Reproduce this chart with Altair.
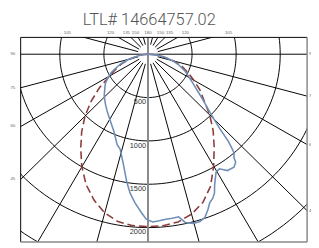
import altair as alt
import numpy as np
import pandas as pd

TITLE = "LTL# 14664757.02"

# measured curve (blue), angle from nadir in degrees, candela
blue_angle = [-90, -85, -80, -75, -70, -67, -63, -59, -55, -51, -46, -40, -34.6, -28.5,
              -23.4, -18.6, -16, -12.1, -9.3, -7.2, -4.9, -2.3, -0.6, 1.6, 3.8, 6.1, 8.3,
              10.5, 12.3, 14.8, 17, 18.9, 20.8, 22.2, 23.9, 25.2, 26.6, 29.6, 31.5, 33.9,
              36.8, 38.6, 39.3, 40.7, 41.5, 42.3, 43.5, 46.3, 50, 52.2, 55, 60, 65, 70,
              75, 80, 85, 90]
blue_cd = [0, 50, 110, 225, 330, 385, 470, 530, 590, 630, 690, 751, 811, 888,
           972, 1099, 1142, 1315, 1491, 1616, 1722, 1830, 1903, 1935, 1925, 1914, 1912,
           1908, 1986, 2019, 2017, 1991, 1916, 1853, 1816, 1772, 1688, 1564, 1551, 1617,
           1628, 1595, 1540, 1497, 1420, 1350, 1180, 975, 810, 730, 650, 545, 465, 380,
           290, 190, 90, 0]

# second plane (dashed)
red_angle = [-90, -85, -80, -75, -70, -65, -60, -55, -50, -45, -40, -35, -30, -25, -20,
             -15, -10, -5, 0, 5, 10, 15, 20, 25, 30, 35, 40, 45, 50, 55, 60, 65, 70, 75,
             80, 85, 90]
red_cd = [0, 60, 120, 210, 310, 400, 500, 670, 840, 1010, 1170, 1330, 1500, 1660, 1790,
          1895, 1960, 1985, 1990, 1985, 1965, 1910, 1820, 1680, 1490, 1310, 1150, 990,
          830, 720, 600, 500, 410, 300, 170, 80, 0]

ring_values = [500, 1000, 1500, 2000, 2500]
ring_labels = ["500", "1000", "1500", "2000"]
ray_angles = [15, 30, 45, 60, 75, 105, 120, 135, 150, 165,
              -15, -30, -45, -60, -75, -105, -120, -135, -150, -165]
side_labels = ["90", "75", "60", "45"]
side_angles = [90, 75, 60, 45]
top_labels = ["105", "120", "135", "150", "180", "150", "135", "120", "105"]
top_angles = [-105, -120, -135, -150, 180, 150, 135, 120, 105]

W, H = 294, 210
XD = [-1444, 1805]
YD = [-2166, 194]
xs = alt.Scale(domain=XD, nice=False, zero=False)
ys = alt.Scale(domain=YD, nice=False, zero=False)


def polar(angles, cds):
    a = np.radians(np.array(angles, dtype=float))
    r = np.array(cds, dtype=float)
    return r * np.sin(a), -r * np.cos(a)


bx, by = polar(blue_angle, blue_cd)
blue_df = pd.DataFrame({"x": bx, "y": by, "i": range(len(bx))})
rx, ry = polar(red_angle, red_cd)
red_df = pd.DataFrame({"x": rx, "y": ry, "i": range(len(rx))})

ring_rows = []
for v in ring_values:
    t = np.arange(0, 361, 2)
    cx, cy = polar(t, [v] * len(t))
    for k in range(len(t)):
        ring_rows.append({"ring": v, "i": k, "x": cx[k], "y": cy[k]})
ring_df = pd.DataFrame(ring_rows)

r0, r1 = 115, 4000
ray_rows = []
for a in ray_angles:
    x0, y0 = polar([a], [r0])
    x1, y1 = polar([a], [r1])
    ray_rows.append({"x": x0[0], "y": y0[0], "x2": x1[0], "y2": y1[0]})
ray_rows.append({"x": -r1, "y": 0.0, "x2": r1, "y2": 0.0})
ray_df = pd.DataFrame(ray_rows)

X = lambda f: alt.X(f, type="quantitative", scale=xs, axis=None)
Y = lambda f: alt.Y(f, type="quantitative", scale=ys, axis=None)

rings = alt.Chart(ring_df).mark_line(color="#000", strokeWidth=1, clip=True).encode(
    x=X("x"), y=Y("y"), detail="ring:N", order="i:Q")
rays = alt.Chart(ray_df).mark_rule(color="#000", strokeWidth=1, clip=True).encode(
    x=X("x"), y=Y("y"), x2="x2", y2="y2")
vline = alt.Chart(pd.DataFrame({"x": [0.0], "y": [YD[0]], "y2": [YD[1]]})).mark_rule(
    color="#888", strokeWidth=2).encode(x=X("x"), y=Y("y"), y2="y2")

border_df = pd.DataFrame({"k": [0]})
b_left = alt.Chart(border_df).mark_rule(color="#000", strokeWidth=1).encode(
    x=alt.value(0), y=alt.value(0), y2=alt.value(H))
b_top = alt.Chart(border_df).mark_rule(color="#000", strokeWidth=1).encode(
    x=alt.value(0), x2=alt.value(W), y=alt.value(0))
b_right = alt.Chart(border_df).mark_rule(color="#888", strokeWidth=1.5).encode(
    x=alt.value(W), y=alt.value(0), y2=alt.value(H))
b_bottom = alt.Chart(border_df).mark_rule(color="#888", strokeWidth=1.5).encode(
    x=alt.value(0), x2=alt.value(W), y=alt.value(H))

red = alt.Chart(red_df).mark_line(color="#8c3b3b", strokeWidth=1.6, strokeDash=[8, 4]).encode(
    x=X("x"), y=Y("y"), order="i:Q")
blue = alt.Chart(blue_df).mark_line(color="#6f8fb8", strokeWidth=1.6).encode(
    x=X("x"), y=Y("y"), order="i:Q")

ring_lab_df = pd.DataFrame({"t": ring_labels, "x": [0.0] * 4,
                            "y": [-float(v) for v in ring_values[:4]]})
ring_text = alt.Chart(ring_lab_df).mark_text(
    align="right", baseline="middle", dx=-2, dy=5, fontSize=7.5,
    font="Liberation Sans", color="#333").encode(x=X("x"), y=Y("y"), text="t:N")

sa = np.radians(np.array(side_angles, dtype=float))
left_df = pd.DataFrame({"t": side_labels, "y": XD[0] * np.cos(sa) / np.sin(sa)})
right_df = pd.DataFrame({"t": side_labels, "y": -XD[1] * np.cos(sa) / np.sin(sa)})
left_text = alt.Chart(left_df).mark_text(
    align="center", baseline="middle", fontSize=4.5, font="Liberation Sans",
    color="#666").encode(x=alt.value(-8), y=Y("y"), text="t:N")
right_text = alt.Chart(right_df).mark_text(
    align="left", baseline="middle", fontSize=4.5, font="Liberation Sans",
    color="#666").encode(x=alt.value(W + 2), y=Y("y"), text="t:N")

ta = np.radians(np.array(top_angles, dtype=float))
ylab = 245.0
top_df = pd.DataFrame({"t": top_labels, "x": ylab * np.sin(ta) / (-np.cos(ta))})
top_text = alt.Chart(top_df).mark_text(
    align="center", baseline="middle", fontSize=4.5, font="Liberation Sans",
    color="#666").encode(x=X("x"), y=alt.value(-4.5), text="t:N")

title = alt.Chart(pd.DataFrame({"t": [TITLE]})).mark_text(
    align="center", baseline="alphabetic", fontSize=16.8, font="Roboto",
    fontWeight=300, color="#555").encode(x=alt.value(132), y=alt.value(-12.3), text="t:N")

chart = alt.layer(rings, rays, vline, b_left, b_top, b_right, b_bottom, red, blue,
                  ring_text, left_text, right_text, top_text, title).properties(
    width=W, height=H, autosize="none",
    padding={"left": 13, "top": 27, "right": 4, "bottom": 3}
).configure_view(stroke=None)

chart.save("out.html", embed_options={"renderer": "svg", "actions": False})
